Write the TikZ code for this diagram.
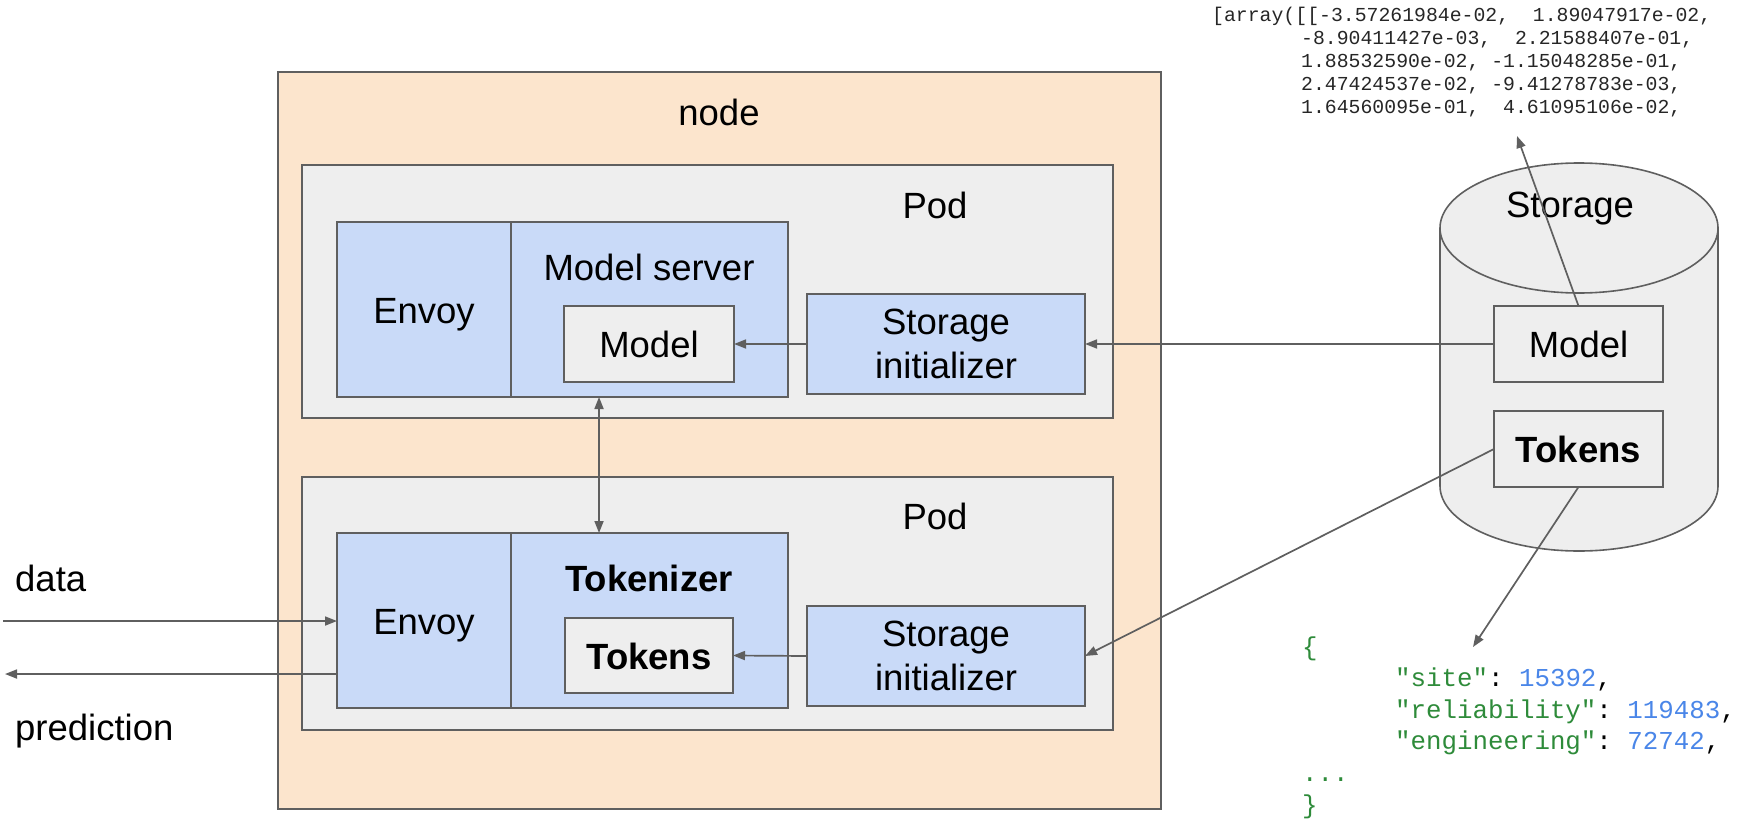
\documentclass[tikz,border=0pt]{standalone}
\usepackage{fontspec}
\setmainfont{Liberation Sans}
\setmonofont{Liberation Mono}
\usetikzlibrary{arrows.meta}

\definecolor{ln}{HTML}{5F5F5F}
\definecolor{peach}{HTML}{FCE5CD}
\definecolor{podgray}{HTML}{EEEEEE}
\definecolor{paleblue}{HTML}{C9DAF8}
\definecolor{jsongreen}{HTML}{2E8B3A}
\definecolor{jsonblue}{HTML}{4A86E8}
\definecolor{arraytext}{HTML}{262626}

\begin{document}
\begin{tikzpicture}[x=1pt,y=-1pt,
  box/.style={draw=ln, line width=1.6pt, inner sep=0pt, outer sep=0pt, rectangle},
  peachbox/.style={box, fill=peach},
  graybox/.style={box, fill=podgray},
  bluebox/.style={box, fill=paleblue},
  big/.style={font=\fontsize{36.5}{44}\selectfont},
  bigbold/.style={font=\fontsize{36.5}{44}\selectfont\bfseries},
  oneline/.style={text height=34pt, text depth=7pt},
  title/.style={big, anchor=base, inner sep=0pt},
  boldtitle/.style={bigbold, anchor=base, inner sep=0pt},
  conn/.style={draw=ln, line width=1.7pt, -{Triangle[length=12pt,width=9pt]}},
  connboth/.style={draw=ln, line width=1.7pt, {Triangle[length=12pt,width=9pt]}-{Triangle[length=12pt,width=9pt]}},
  mono/.style={font=\ttfamily\fontsize{19.8}{23}\selectfont\frenchspacing, text=arraytext, align=left, anchor=base west, inner sep=0pt},
  json/.style={font=\ttfamily\fontsize{25.8}{31.6}\selectfont\frenchspacing, align=left, anchor=base west, inner sep=0pt}
]
\useasboundingbox (0,0) rectangle (1749,822);

% the cluster node
\node[peachbox, minimum width=883pt, minimum height=737pt] (host) at (719.5,440.5) {};
\node[title] (hostlbl) at (719,125) {node};

% upper pod: envoy + model server + storage initializer
\node[graybox, minimum width=811pt, minimum height=253pt] (pod1) at (707.5,291.5) {};
\node[title] (pod1lbl) at (935,218) {Pod};
\node[bluebox, big, oneline, minimum width=174pt, minimum height=175pt] (env1) at (424,309.5) {Envoy};
\node[bluebox, minimum width=277pt, minimum height=175pt] (ms) at (649.5,309.5) {};
\node[title] (mslbl) at (649,280) {Model server};
\node[graybox, big, oneline, minimum width=170pt, minimum height=76pt] (model1) at (649,344) {Model};
\node[bluebox, big, align=center, minimum width=278pt, minimum height=100pt] (sinit1) at (946,344) {Storage\\initializer};

% lower pod: envoy + tokenizer + storage initializer
\node[graybox, minimum width=811pt, minimum height=253pt] (pod2) at (707.5,603.5) {};
\node[title] (pod2lbl) at (935,529) {Pod};
\node[bluebox, big, oneline, minimum width=174pt, minimum height=175pt] (env2) at (424,620.5) {Envoy};
\node[bluebox, minimum width=277pt, minimum height=175pt] (tok) at (649.5,620.5) {};
\node[boldtitle] (toklbl) at (649,591) {Tokenizer};
\node[graybox, bigbold, oneline, minimum width=168pt, minimum height=75pt] (tokens2) at (649,655.5) {Tokens};
\node[bluebox, big, align=center, minimum width=278pt, minimum height=100pt] (sinit2) at (946,656) {Storage\\initializer};

% storage cylinder
\filldraw[draw=ln, fill=podgray, line width=1.6pt]
  (1440,228) -- (1440,486)
  arc[start angle=180, end angle=360, x radius=139pt, y radius=65pt]
  -- (1718,228)
  arc[start angle=0, end angle=180, x radius=139pt, y radius=65pt] -- cycle;
\draw[ln, line width=1.6pt] (1440,228)
  arc[start angle=180, end angle=360, x radius=139pt, y radius=65pt];
\node[title] (storelbl) at (1570,217) {Storage};
\node[graybox, big, oneline, minimum width=169pt, minimum height=76pt] (smodel) at (1578.5,344) {Model};
\node[graybox, bigbold, oneline, minimum width=169pt, minimum height=76pt] (stokens) at (1578.5,449) {Tokens};

% request / response labels
\node[big, anchor=base west, inner sep=0pt] (datalbl) at (15,591) {data};
\node[big, anchor=base west, inner sep=0pt] (predlbl) at (15,740) {prediction};

% model weights dump (anchored on the baseline of its last line)
\node[mono] (weights) at (1212,113) {[array([[-3.57261984e-02,\ \ 1.89047917e-02,\\
\hspace*{89pt}-8.90411427e-03,\ \ 2.21588407e-01,\\
\hspace*{89pt}1.88532590e-02,\ -1.15048285e-01,\\
\hspace*{89pt}2.47424537e-02,\ -9.41278783e-03,\\
\hspace*{89pt}1.64560095e-01,\ \ 4.61095106e-02,};

% token vocabulary (anchored on the baseline of its last line)
\node[json] (vocab) at (1302,813) {{\color{jsongreen}\{}\\
\hspace*{93pt}{\color{jsongreen}"site"}:\ {\color{jsonblue}15392},\\
\hspace*{93pt}{\color{jsongreen}"reliability"}:\ {\color{jsonblue}119483},\\
\hspace*{93pt}{\color{jsongreen}"engineering"}:\ {\color{jsonblue}72742},\\
{\color{jsongreen}...}\\
{\color{jsongreen}\}}};

% connectors
\coordinate (weightstip) at (1517,136);
\coordinate (vocabtip) at (1473,647);
\coordinate (datain) at (3,621);
\coordinate (predout) at (5,674);

\draw[conn] (smodel.west) -- (sinit1.east);
\draw[conn] (sinit1.west) -- (model1.east);
\draw[conn] (stokens.west) -- (sinit2.east);
\draw[conn] (sinit2.west) -- (tokens2.east);
\draw[connboth] ([xshift=88pt]ms.south west) -- ([xshift=88pt]tok.north west);
\draw[conn] (smodel.north) -- (weightstip);
\draw[conn] (stokens.south) -- (vocabtip);
\draw[conn] (datain) -- (datain -| env2.west);
\draw[conn] (predout -| env2.west) -- (predout);
\end{tikzpicture}
\end{document}
